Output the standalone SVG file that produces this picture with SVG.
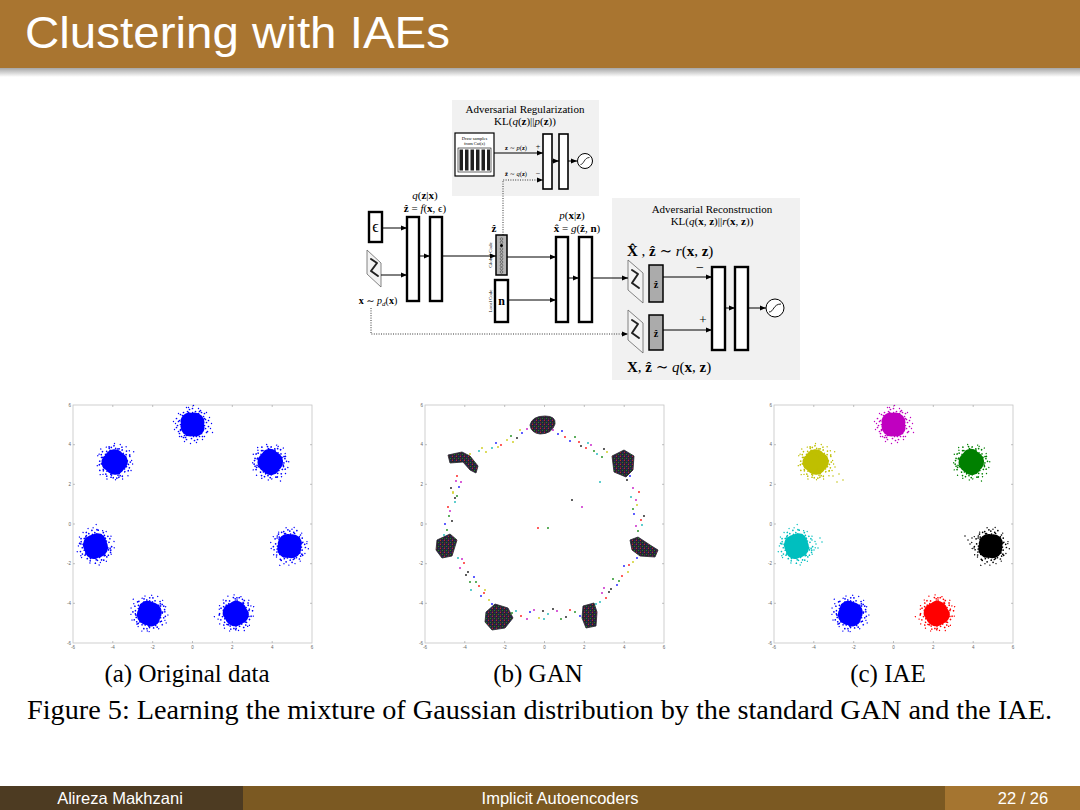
<svg xmlns="http://www.w3.org/2000/svg" xmlns:xlink="http://www.w3.org/1999/xlink" width="1080" height="810" viewBox="0 0 1080 810">
<defs>
<style>
.bar{fill:#fff;stroke:#000;stroke-width:2.4}
.bars{fill:#fff;stroke:#000;stroke-width:1.6}
.conn{stroke:#000;stroke-width:1;fill:none;marker-end:url(#ah)}
.dotl{stroke:#000;stroke-width:0.8;stroke-dasharray:1 1.4;fill:none;marker-end:url(#ah)}
.m{font-family:"Liberation Serif","DejaVu Serif",serif;fill:#000}
.b{font-weight:bold}
.i{font-style:italic}
.tick{font-family:"Liberation Sans",sans-serif;font-size:4.5px;fill:#666}
.cap{font-family:"Liberation Serif","Times New Roman",serif;fill:#000}
.foot{font-family:"Liberation Sans",Arial,sans-serif;font-size:16.5px;fill:#fff}
.img{fill:#f3f3f3;stroke:#666;stroke-width:0.8}
.dig{fill:none;stroke:#222;stroke-width:2;stroke-linejoin:round;stroke-linecap:round}
.gdot{fill:none;stroke-linecap:round;stroke-width:2.1;opacity:0.8}
</style>
<marker id="ah" viewBox="0 0 10 10" refX="10" refY="5" markerWidth="6" markerHeight="6" orient="auto" markerUnits="userSpaceOnUse"><path d="M0,1 L10,5 L0,9 Z" fill="#000"/></marker>
<linearGradient id="shadow" x1="0" y1="0" x2="0" y2="1"><stop offset="0" stop-color="#000" stop-opacity="0.35"/><stop offset="1" stop-color="#000" stop-opacity="0"/></linearGradient>
<pattern id="mix" width="4" height="4" patternUnits="userSpaceOnUse"><rect width="4" height="4" fill="#25242c"/><rect x="0" y="0" width="1" height="1" fill="#c02525"/><rect x="2" y="2" width="1" height="1" fill="#228a22"/><rect x="2.5" y="0.3" width="0.9" height="0.9" fill="#2535c8"/><rect x="0.3" y="2.6" width="0.8" height="0.8" fill="#b020b0"/></pattern>
<g id="blob" fill="currentColor" stroke="currentColor">
<circle r="11" stroke="none"/>
<circle cx="-2" cy="2" r="10" stroke="none"/>
<circle cx="2" cy="-2" r="10" stroke="none"/>
<circle cx="3" cy="3" r="9" stroke="none"/>
<circle cx="-3" cy="-3" r="9" stroke="none"/>
<path fill="none" stroke-width="1.7" stroke-linecap="round" d="M-14,-3h0M-12,5h0M-10,-9h0M-8,11h0M-5,-13h0M-1,14h0M3,-13h0M7,12h0M11,-8h0M13,4h0M14,-2h0M9,9h0M-13,9h0M-15,1h0M15,7h0M-9,-12h0M5,15h0M-3,-15h0M12,-11h0M-11,12h0M16,-4h0M-16,-6h0M0,-16h0M2,16h0M-6,15h0M8,-14h0M16,2h0M-16,3h0M-12,-10h0M10,12h0M-12,0h0M12,1h0M0,-12h0M1,12h0M-11,-5h0M11,5h0M-4,-12h0M4,12h0M-12,6h0M12,-6h0M6,-11h0M-6,11h0M13,-5h0M-13,-4h0M7,-13h0M-7,13h0M14,8h0M-14,7h0M9,-12h0M-9,13h0"/>
<path fill="none" stroke-width="1.4" stroke-linecap="round" d="M-17,-1h0M17,-7h0M-6,-17h0M6,-16h0M12,12h0M-13,12h0M18,4h0M-18,5h0M4,18h0M-4,-17h0M14,-12h0M-14,-11h0M19,-1h0M-19,-3h0M10,15h0M-8,17h0M1,-19h0M-2,19h0M20,8h0"/>
</g>
<g id="axes">
<rect x="0" y="0" width="239" height="238" fill="#fff" stroke="#c4c4c4" stroke-width="0.8"/>
<path stroke="#999" stroke-width="0.6" d="M39.8,238v-2M79.7,238v-2M119.5,238v-2M159.3,238v-2M199.2,238v-2M39.8,0v2M79.7,0v2M119.5,0v2M159.3,0v2M199.2,0v2M0,39.7h2M0,79.3h2M0,119h2M0,158.7h2M0,198.3h2M239,39.7h-2M239,79.3h-2M239,119h-2M239,158.7h-2M239,198.3h-2"/>
<g class="tick" text-anchor="middle">
<text x="0" y="244">-6</text><text x="39.8" y="244">-4</text><text x="79.7" y="244">-2</text><text x="119.5" y="244">0</text><text x="159.3" y="244">2</text><text x="199.2" y="244">4</text><text x="239" y="244">6</text>
</g>
<g class="tick" text-anchor="end">
<text x="-2" y="1.5">6</text><text x="-2" y="41.2">4</text><text x="-2" y="80.8">2</text><text x="-2" y="120.5">0</text><text x="-2" y="160.2">-2</text><text x="-2" y="199.8">-4</text><text x="-2" y="239.5">-6</text>
</g>
</g>
</defs>

<rect width="1080" height="810" fill="#fff"/>

<!-- header -->
<g id="header">
<rect x="0" y="0" width="1080" height="68" fill="#a97530"/>
<rect x="0" y="68" width="1080" height="9" fill="url(#shadow)"/>
<text x="25" y="48" font-family="Liberation Sans, Arial, sans-serif" font-size="44" fill="#fff" textLength="425" lengthAdjust="spacingAndGlyphs">Clustering with IAEs</text>
</g>

<!-- architecture diagram -->
<g id="adv-reg">
<rect x="452" y="100" width="147" height="96" fill="#f1f1f1"/>
<text x="525" y="113" class="m" font-size="11" text-anchor="middle">Adversarial Regularization</text>
<text x="525" y="125" class="m" font-size="11" text-anchor="middle">KL(<tspan class="i">q</tspan>(<tspan class="b">z</tspan>)||<tspan class="i">p</tspan>(<tspan class="b">z</tspan>))</text>
</g>
<g id="sampler">
<rect x="455" y="133" width="39" height="43" fill="#fff" stroke="#000" stroke-width="1.2"/>
<text x="474.5" y="139.5" class="m" font-size="4.5" text-anchor="middle">Draw samples</text>
<text x="474.5" y="144.5" class="m" font-size="4.5" text-anchor="middle">from Cat(z)</text>
<rect x="458" y="148" width="33" height="24" fill="none" stroke="#000" stroke-width="0.6"/>
<path fill="#222" d="M459.5,149.5h3.5v21h-3.5zM465,149.5h3.5v21h-3.5zM470.5,149.5h3.5v21h-3.5zM476,149.5h3.5v21h-3.5zM481.5,149.5h3.5v21h-3.5zM487,149.5h3v21h-3z"/>
</g>
<g id="reg-labels">
<text x="516" y="150" class="m" font-size="6.5" text-anchor="middle"><tspan class="b">z</tspan> ∼ <tspan class="i">p</tspan>(<tspan class="b">z</tspan>)</text>
<text x="538" y="149" class="m" font-size="8" text-anchor="middle">+</text>
<text x="516" y="176" class="m" font-size="6.5" text-anchor="middle"><tspan class="b">ẑ</tspan> ∼ <tspan class="i">q</tspan>(<tspan class="b">z</tspan>)</text>
<text x="538" y="176" class="m" font-size="8" text-anchor="middle">−</text>
</g>
<g id="disc-reg">
<rect x="543" y="134" width="9" height="55" class="bars"/>
<rect x="559" y="134" width="9" height="55" class="bars"/>
<circle cx="585" cy="161" r="7.5" fill="#fff" stroke="#000" stroke-width="1"/>
<path d="M580.5,164.5 C584,164.5 584,157.5 589.5,157.5" fill="none" stroke="#000" stroke-width="0.8"/>
</g>

<g id="eps">
<rect x="369" y="212" width="13" height="30" class="bar" stroke-width="2"/>
<text x="375.5" y="232" class="m" font-size="16" text-anchor="middle">ϵ</text>
</g>
<g id="x-input">
<polygon points="367,250 381,263 381,287 367,274" class="img"/>
<path d="M371,259 L377,263 L371,271 L378,276" class="dig"/>
<text x="378" y="304" class="m" font-size="10" text-anchor="middle"><tspan class="b">x</tspan> ∼ <tspan class="i">p<tspan font-size="7" dy="2">d</tspan></tspan><tspan dy="-2">(</tspan><tspan class="b">x</tspan>)</text>
</g>
<g id="encoder">
<text x="425" y="199" class="m" font-size="11" text-anchor="middle"><tspan class="i">q</tspan>(<tspan class="b">z</tspan>|<tspan class="b">x</tspan>)</text>
<text x="425" y="212" class="m" font-size="11" text-anchor="middle"><tspan class="b">ẑ</tspan> = <tspan class="i">f</tspan>(<tspan class="b">x</tspan>, ϵ)</text>
<rect x="407" y="217" width="12" height="84" class="bar"/>
<rect x="430" y="217" width="12" height="84" class="bar"/>
</g>
<g id="global-code">
<text x="494" y="232" class="m b" font-size="11" text-anchor="middle">ẑ</text>
<rect x="496" y="235" width="11" height="40" fill="#b5b5b5" stroke="#000" stroke-width="1.5"/>
<g fill="none" stroke="#333" stroke-width="0.5">
<circle cx="501.5" cy="239" r="1.3"/><circle cx="501.5" cy="242.3" r="1.3"/><circle cx="501.5" cy="248.9" r="1.3"/><circle cx="501.5" cy="252.2" r="1.3"/><circle cx="501.5" cy="255.5" r="1.3"/><circle cx="501.5" cy="258.8" r="1.3"/><circle cx="501.5" cy="262.1" r="1.3"/><circle cx="501.5" cy="265.4" r="1.3"/><circle cx="501.5" cy="268.7" r="1.3"/><circle cx="501.5" cy="272" r="1.3"/>
</g>
<circle cx="501.5" cy="245.6" r="1.5" fill="#000"/>
<text x="0" y="0" transform="translate(492,255) rotate(-90)" class="m" font-size="5" text-anchor="middle">Global Code</text>
</g>
<g id="local-code">
<rect x="495" y="280" width="13" height="42" class="bar" stroke-width="1.5"/>
<text x="501.5" y="305" class="m b" font-size="12" text-anchor="middle">n</text>
<text x="0" y="0" transform="translate(492,301) rotate(-90)" class="m" font-size="5" text-anchor="middle">Local Code</text>
</g>
<g id="decoder">
<text x="572" y="219" class="m" font-size="11" text-anchor="middle"><tspan class="i">p</tspan>(<tspan class="b">x</tspan>|<tspan class="b">z</tspan>)</text>
<text x="577" y="232" class="m" font-size="11" text-anchor="middle"><tspan class="b">x̂</tspan> = <tspan class="i">g</tspan>(<tspan class="b">ẑ</tspan>, <tspan class="b">n</tspan>)</text>
<rect x="556" y="237" width="12" height="85" class="bar"/>
<rect x="579" y="237" width="13" height="85" class="bar"/>
</g>
<g id="adv-rec">
<rect x="612" y="198" width="188" height="182" fill="#f1f1f1"/>
<text x="712" y="213" class="m" font-size="11" text-anchor="middle">Adversarial Reconstruction</text>
<text x="712" y="225" class="m" font-size="11" text-anchor="middle">KL(<tspan class="i">q</tspan>(<tspan class="b">x</tspan>, <tspan class="b">z</tspan>)||<tspan class="i">r</tspan>(<tspan class="b">x</tspan>, <tspan class="b">z</tspan>))</text>
<text x="627" y="256" class="m" font-size="15"><tspan class="b">X̂</tspan> , <tspan class="b">ẑ</tspan> ∼ <tspan class="i">r</tspan>(<tspan class="b">x</tspan>, <tspan class="b">z</tspan>)</text>
<text x="627" y="372" class="m" font-size="15"><tspan class="b">X</tspan>, <tspan class="b">ẑ</tspan> ∼ <tspan class="i">q</tspan>(<tspan class="b">x</tspan>, <tspan class="b">z</tspan>)</text>
<text x="700" y="272" class="m" font-size="14" text-anchor="middle">−</text>
<text x="703" y="324" class="m" font-size="13" text-anchor="middle">+</text>
</g>
<g id="rec-fake">
<polygon points="628,260 643,273 643,303 628,290" class="img"/>
<path d="M632,270 L638,274 L632,283 L639,288" class="dig"/>
<rect x="649" y="265" width="14" height="37" fill="#ababab" stroke="#000" stroke-width="1.5"/>
<text x="656" y="288" class="m b" font-size="10" text-anchor="middle">ẑ</text>
</g>
<g id="rec-real">
<polygon points="628,310 643,323 643,353 628,340" class="img"/>
<path d="M632,320 L638,324 L632,333 L639,338" class="dig"/>
<rect x="649" y="315" width="14" height="35" fill="#ababab" stroke="#000" stroke-width="1.5"/>
<text x="656" y="337" class="m b" font-size="10" text-anchor="middle">ẑ</text>
</g>
<g id="disc-rec">
<rect x="712" y="267" width="13" height="83" class="bar"/>
<rect x="735" y="267" width="13" height="83" class="bar"/>
<circle cx="775" cy="308" r="9" fill="#fff" stroke="#000" stroke-width="1"/>
<path d="M769,312 C774,312 773,304 781,304" fill="none" stroke="#000" stroke-width="0.9"/>
</g>

<g id="connectors">
<path class="conn" d="M494,153 H543"/>
<path class="dotl" d="M503,235 V180 H543"/>
<path class="conn" d="M552,161 H559"/>
<path class="conn" d="M568,161 H577"/>
<path class="conn" d="M382,228 H407"/>
<path class="conn" d="M381,275 H407"/>
<path class="conn" d="M419,256 H430"/>
<path class="conn" d="M442,256 H496"/>
<path class="conn" d="M507,257 H556"/>
<path class="conn" d="M508,300 H556"/>
<path class="conn" d="M568,278 H579"/>
<path class="conn" d="M592,278 H628"/>
<path class="conn" d="M663,277 H712"/>
<path class="conn" d="M663,330 H712"/>
<path class="conn" d="M725,308 H735"/>
<path class="conn" d="M748,308 H766"/>
<path class="dotl" d="M371,308 V334 H628"/>
</g>

<!-- plot (a) original data -->
<g id="plot-a">
<use xlink:href="#axes" href="#axes" transform="translate(73,405)"/>
<g style="color:#0000ff">
<use href="#blob" xlink:href="#blob" transform="translate(192.5,424.5)"/>
<use href="#blob" xlink:href="#blob" transform="translate(270.3,462) rotate(40)"/>
<use href="#blob" xlink:href="#blob" transform="translate(289.5,546.1) rotate(95)"/>
<use href="#blob" xlink:href="#blob" transform="translate(235.7,613.6) rotate(150)"/>
<use href="#blob" xlink:href="#blob" transform="translate(149.3,613.6) rotate(200)"/>
<use href="#blob" xlink:href="#blob" transform="translate(95.5,546.1) rotate(250)"/>
<use href="#blob" xlink:href="#blob" transform="translate(114.7,462) rotate(310)"/>
</g>
</g>

<!-- plot (b) GAN -->
<g id="plot-b">
<use xlink:href="#axes" href="#axes" transform="translate(425,405)"/>
<path class="gdot" stroke="#0000ff" d="M558,434h0M570,441h0M634,514h0M624,566h0M617,585h0M530,612h0M481,596h0M474,577h0M459,487h0M496,443h0M522,433h0M562,431h0M630,476h0M637,558h0M580,616h0M492,604h0M445,524h0"/>
<path class="gdot" stroke="#ff0000" d="M565,437h0M586,448h0M641,520h0M622,576h0M606,598h0M521,616h0M479,586h0M464,563h0M457,476h0M501,445h0M538,528h0M579,442h0M639,492h0M629,565h0M570,610h0M484,593h0M448,507h0"/>
<path class="gdot" stroke="#008000" d="M575,437h0M602,457h0M638,531h0M613,579h0M575,612h0M512,613h0M470,582h0M447,530h0M449,516h0M511,436h0M548,528h0M594,451h0M633,509h0M619,581h0M561,619h0M476,582h0M457,496h0"/>
<path class="gdot" stroke="#000000" d="M581,446h0M627,480h0M629,470h0M611,589h0M566,617h0M553,609h0M468,572h0M452,521h0M455,498h0M517,438h0M572,500h0M604,449h0M644,516h0M609,592h0M543,611h0M466,575h0M451,488h0"/>
<path class="gdot" stroke="#c000c0" d="M591,445h0M633,488h0M636,500h0M602,593h0M557,611h0M534,610h0M460,568h0M450,511h0M461,482h0M527,429h0M582,507h0M553,430h0M636,526h0M604,588h0M527,619h0M462,559h0M456,481h0"/>
<path class="gdot" stroke="#00b0b0" d="M597,454h0M631,497h0M642,525h0M600,602h0M548,614h0M544,619h0M458,558h0M455,502h0M479,451h0M492,448h0M600,482h0M588,443h0M627,466h0M596,604h0M516,611h0M471,590h0M444,535h0"/>
<path class="gdot" stroke="#c8c800" d="M607,452h0M637,505h0M633,562h0M628,572h0M539,618h0M489,600h0M485,590h0M453,493h0M486,452h0M507,440h0M453,492h0M470,454h0M482,448h0M498,447h0M513,442h0M520,430h0M532,427h0"/>
<g fill="url(#mix)" stroke="#25242c" stroke-width="0.8" stroke-linejoin="round">
<path d="M530,425 Q532,416 545,416 Q556,416 555,424 Q552,434 540,434 Q531,433 530,425Z"/>
<path d="M448,455 L462,452 L470,456 L478,466 L476,473 L470,470 L463,462 L450,463 Z"/>
<path d="M612,456 L624,450 L634,456 L633,470 L626,477 L614,472 Z"/>
<path d="M437,540 L450,534 L457,540 L452,556 L442,558 L436,550 Z"/>
<path d="M630,540 L638,537 L650,545 L658,550 L655,557 L640,556 L632,550 Z"/>
<path d="M486,612 L495,604 L508,608 L513,618 L505,628 L492,630 L485,622 Z"/>
<path d="M583,606 L594,603 L597,612 L596,626 L586,628 L582,618 Z"/>
</g>
</g>

<!-- plot (c) IAE -->
<g id="plot-c">
<use xlink:href="#axes" href="#axes" transform="translate(774,405)"/>
<use href="#blob" xlink:href="#blob" style="color:#c000c0" transform="translate(893.5,424.5)"/>
<use href="#blob" xlink:href="#blob" style="color:#008000" transform="translate(971.3,462) rotate(40)"/>
<use href="#blob" xlink:href="#blob" style="color:#000000" transform="translate(990.5,546.1) rotate(95)"/>
<use href="#blob" xlink:href="#blob" style="color:#ff0000" transform="translate(936.7,613.6) rotate(150)"/>
<use href="#blob" xlink:href="#blob" style="color:#0000ff" transform="translate(850.3,613.6) rotate(200)"/>
<use href="#blob" xlink:href="#blob" style="color:#00bfbf" transform="translate(796.5,546.1) rotate(250)"/>
<use href="#blob" xlink:href="#blob" style="color:#bfbf00" transform="translate(815.7,462) rotate(310)"/>
<path fill="none" stroke-linecap="round" stroke-width="1.5" stroke="#bfbf00" d="M829,471h0M833,476h0M839,474h0M843,480h0M837,482h0M835,467h0"/>
<path fill="none" stroke-linecap="round" stroke-width="1.5" stroke="#00bfbf" d="M812,540h0M816,544h0M820,538h0M818,548h0M822,542h0M814,550h0"/>
<path fill="none" stroke-linecap="round" stroke-width="1.5" stroke="#000" d="M972,538h0M968,540h0M970,544h0M965,536h0M974,548h0"/>
</g>

<!-- captions -->
<g id="captions">
<text x="187" y="682" class="cap" font-size="25" text-anchor="middle">(a) Original data</text>
<text x="538" y="682" class="cap" font-size="25" text-anchor="middle">(b) GAN</text>
<text x="888" y="682" class="cap" font-size="25" text-anchor="middle">(c) IAE</text>
<text x="27" y="719" class="cap" font-size="27" textLength="1025" lengthAdjust="spacingAndGlyphs">Figure 5: Learning the mixture of Gaussian distribution by the standard GAN and the IAE.</text>
</g>

<!-- footer -->
<g id="footer">
<rect x="0" y="786" width="243" height="24" fill="#4d3b22"/>
<rect x="243" y="786" width="702" height="24" fill="#7b5922"/>
<rect x="945" y="786" width="135" height="24" fill="#a57530"/>
<text x="120" y="804" class="foot" text-anchor="middle">Alireza Makhzani</text>
<text x="560" y="804" class="foot" text-anchor="middle">Implicit Autoencoders</text>
<text x="1023" y="804" class="foot" text-anchor="middle">22 / 26</text>
</g>
</svg>
